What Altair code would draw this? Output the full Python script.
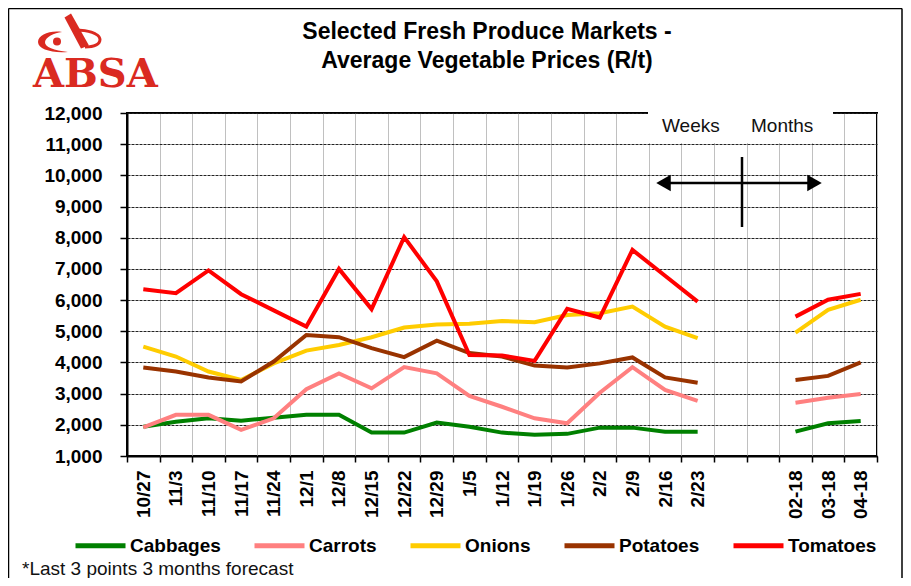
import altair as alt
import pandas as pd

# ---------------- data ----------------
categories = ["10/27", "11/3", "11/10", "11/17", "11/24", "12/1", "12/8", "12/15",
              "12/22", "12/29", "1/5", "1/12", "1/19", "1/26", "2/2", "2/9", "2/16",
              "2/23", " ", "  ", "02-18", "03-18", "04-18"]
weeks = categories[:18]
months = categories[20:]

vegetables = ["Cabbages", "Carrots", "Onions", "Potatoes", "Tomatoes"]
colors = ["#008000", "#FF8080", "#FFCC00", "#993300", "#FF0000"]

cabbages_w = [1940, 2100, 2210, 2130, 2230, 2320, 2320, 1750, 1750, 2070, 1940, 1750,
              1680, 1710, 1910, 1910, 1780, 1780]
cabbages_m = [1780, 2050, 2120]
carrots_w = [1920, 2320, 2320, 1840, 2210, 3140, 3650, 3170, 3850, 3650, 2930, 2580,
             2210, 2050, 3030, 3850, 3120, 2770]
carrots_m = [2710, 2870, 2990]
onions_w = [4510, 4190, 3710, 3440, 3970, 4380, 4560, 4810, 5120, 5220, 5240, 5330,
            5290, 5520, 5580, 5790, 5150, 4780]
onions_m = [4960, 5690, 6010]
potatoes_w = [3840, 3710, 3520, 3390, 4030, 4880, 4810, 4460, 4170, 4700, 4300, 4190,
              3900, 3840, 3970, 4160, 3520, 3350]
potatoes_m = [3440, 3570, 4000]
tomatoes_w = [6350, 6220, 6950, 6190, 5670, 5150, 7000, 5710, 8020, 6600, 4240, 4220,
              4050, 5720, 5440, 7610, 6780, 5950]
tomatoes_m = [5470, 6010, 6200]

series = {
    "Cabbages": (cabbages_w, cabbages_m),
    "Carrots": (carrots_w, carrots_m),
    "Onions": (onions_w, onions_m),
    "Potatoes": (potatoes_w, potatoes_m),
    "Tomatoes": (tomatoes_w, tomatoes_m),
}

rows = []
for veg, (wv, mv) in series.items():
    for c, v in zip(weeks, wv):
        rows.append({"cat": c, "price": v, "veg": veg, "period": "Weeks"})
    for c, v in zip(months, mv):
        rows.append({"cat": c, "price": v, "veg": veg, "period": "Months"})
df = pd.DataFrame(rows)

FONT = "Arial"
RED_LOGO = "#da2a21"

# ---------------- main lines ----------------
lines = alt.Chart(df).mark_line(strokeWidth=4).encode(
    x=alt.X("cat:N", title=None,
            scale=alt.Scale(type="band", domain=categories, paddingInner=0, paddingOuter=0),
            axis=alt.Axis(tickBand="extent", grid=True, gridColor="#c0c0c0", gridWidth=1,
                          domainColor="black", domainWidth=2, tickColor="black",
                          tickSize=6, tickWidth=1.5, labelAngle=270, labelFont=FONT,
                          labelFontSize=19, labelFontWeight="bold", labelColor="black",
                          labelPadding=8, labelOverlap=False)),
    y=alt.Y("price:Q", title=None,
            scale=alt.Scale(domain=[1000, 12000], nice=False, zero=False),
            axis=alt.Axis(values=list(range(1000, 13000, 1000)), format=",.0f", grid=True,
                          gridColor="#222222", gridDash=[3, 1], gridWidth=1,
                          domainColor="black", domainWidth=2, tickColor="black",
                          tickSize=7, tickWidth=1.5, labelFont=FONT, labelFontSize=19,
                          labelFontWeight="bold", labelColor="black", labelPadding=18)),
    color=alt.Color("veg:N", scale=alt.Scale(domain=vegetables, range=colors),
                    legend=alt.Legend(orient="none", legendX=-54, legendY=405,
                                      direction="horizontal", title=None,
                                      symbolType="stroke", symbolSize=2500,
                                      symbolStrokeWidth=5, labelFont=FONT,
                                      labelFontSize=19, labelFontWeight="bold",
                                      labelColor="black", columnPadding=23,
                                      labelOffset=2)),
    detail="period:N",
)

one = pd.DataFrame({"k": [0]})


def text(t, x, y, size=19, weight="normal", align="left", font=FONT, color="#111111"):
    return alt.Chart(one).mark_text(text=t, align=align, baseline="alphabetic",
                                    font=font, fontSize=size, fontWeight=weight,
                                    color=color).encode(x=alt.value(x), y=alt.value(y))


def rule(x1, y1, x2, y2, w=2.5, color="black"):
    return alt.Chart(one).mark_rule(color=color, strokeWidth=w).encode(
        x=alt.value(x1), y=alt.value(y1), x2=alt.value(x2), y2=alt.value(y2))


# logo shapes (decoration), defined in page pixels around a centre
CX, CY, R = 68.0, 34.0, 35.0


def logo_path(cmds):
    out = []
    for c in cmds:
        if isinstance(c, str):
            out.append(c)
        else:
            out.append("%.3f,%.3f" % ((c[0] - CX) / R, (c[1] - CY) / R))
    return " ".join(out)


crescent = logo_path(["M", (62, 32), "C", (50, 30), (38, 35), (38, 42), "C", (38, 49),
                      (52, 53.5), (68, 52), "C", (54, 50.5), (44.5, 47), (45, 42), "C",
                      (45.5, 37), (54, 33), (62, 32), "Z"])
wedge = logo_path(["M", (64.5, 17.5), "L", (71, 13.5), "L", (89, 45.5), "L", (81, 48.5), "Z"])
loop = logo_path(["M", (74, 28.5), "C", (90, 28.5), (101.5, 33), (101.5, 39.5), "C",
                  (101.5, 45.5), (95, 48.5), (85, 48.5), "L", (85, 45.5), "C", (94, 45.5),
                  (98.5, 43), (98.5, 39.5), "C", (98.5, 35), (88, 31.5), (75, 31.5), "Z"])

OX, OY = 127, 113  # plot origin on the page


def logo_shape(p):
    return alt.Chart(one).mark_point(shape=p, filled=True, color=RED_LOGO, opacity=1,
                                     size=(2 * R) ** 2, strokeWidth=0).encode(
        x=alt.value(CX - OX), y=alt.value(CY - OY))


logo_dot = alt.Chart(one).mark_point(shape="circle", filled=True, color=RED_LOGO,
                                     opacity=1, size=64, strokeWidth=0).encode(
    x=alt.value(57 - OX), y=alt.value(41.5 - OY))

white_box = alt.Chart(one).mark_rect(color="white", opacity=1).encode(
    x=alt.value(648 - OX), x2=alt.value(833 - OX), y=alt.value(-12), y2=alt.value(30))

tri_l = alt.Chart(one).mark_point(shape="triangle-left", filled=True, color="black",
                                  opacity=1, size=280, strokeWidth=0).encode(
    x=alt.value(663.5 - OX), y=alt.value(183 - OY))
tri_r = alt.Chart(one).mark_point(shape="triangle-right", filled=True, color="black",
                                  opacity=1, size=280, strokeWidth=0).encode(
    x=alt.value(814.5 - OX), y=alt.value(183 - OY))

layers = [
    lines,
    white_box,
    text("Weeks", 662 - OX, 132 - OY),
    text("Months", 751 - OX, 132 - OY),
    rule(666 - OX, 183 - OY, 812 - OX, 183 - OY),
    rule(742 - OX, 157 - OY, 742 - OX, 227 - OY),
    tri_l, tri_r,
    text("Selected Fresh Produce Markets -", 487 - OX, 39 - OY, size=23, weight="bold",
         align="center", color="black"),
    text("Average Vegetable Prices (R/t)", 487 - OX, 68 - OY, size=23, weight="bold",
         align="center", color="black"),
    text("ABSA", 33 - OX, 87 - OY, size=40, weight="bold", font="DejaVu Serif",
         color=RED_LOGO),
    logo_shape(crescent), logo_shape(wedge), logo_shape(loop), logo_dot,
    text("*Last 3 points 3 months  forecast", 22 - OX, 575 - OY),
    # outer frame (left, top, right)
    rule(8.5 - OX, 8.5 - OY, 8.5 - OX, 580 - OY, w=1.5),
    rule(8.5 - OX, 8.5 - OY, 902 - OX, 8.5 - OY, w=1.5),
    rule(902 - OX, 8.5 - OY, 902 - OX, 580 - OY, w=1.5),
]

chart = alt.layer(*layers).properties(
    width=750, height=343,
    autosize=alt.AutoSizeParams(type="none"),
    padding={"left": 119, "top": 105, "right": 26, "bottom": 122},
).configure_view(stroke="black", strokeWidth=2)

chart.save("out.html", embed_options={"renderer": "svg", "actions": False})
